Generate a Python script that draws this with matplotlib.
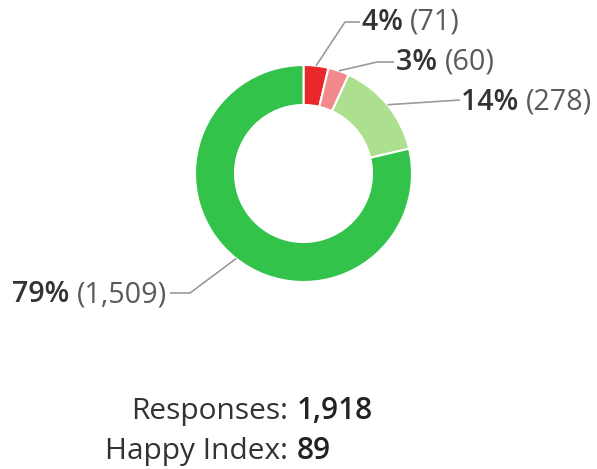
import numpy as np
import matplotlib
matplotlib.use("Agg")
import matplotlib.pyplot as plt

labels = ["Very unhappy", "Unhappy", "Happy", "Very happy"]
counts = [71, 60, 278, 1509]
percents = ["4%", "3%", "14%", "79%"]
count_labels = ["(71)", "(60)", "(278)", "(1,509)"]
colors = ["#e8282b", "#f2898d", "#acdf8e", "#33c24a"]
responses = "1,918"
happy_index = "89"

W, H = 597, 469
fig = plt.figure(figsize=(W / 100, H / 100), dpi=100)
ax = fig.add_axes([0, 0, 1, 1])
plt.rcParams["font.family"] = ["Open Sans", "DejaVu Sans"]

def Y(y):
    return H - y

cx, cy, R, width = 303.5, 173.5, 108.5, 40

wedges, _ = ax.pie(counts, colors=colors, startangle=90, counterclock=False,
                   center=(cx, Y(cy)), radius=R, frame=True,
                   wedgeprops=dict(width=width, edgecolor="white", linewidth=1.5))
ax.set_xlim(0, W)
ax.set_ylim(0, H)
ax.set_aspect("equal")
ax.axis("off")

bends = [[(345, 22), (360, 22)], [(377, 62), (394, 62)], [(460, 100), (460, 100)], [(190, 293), (170, 293)]]
text_pos = [(362, 22, "left"), (396, 62, "left"), (461, 102, "left"), (167, 295, "right")]
fs = 20.6
bw = 600
for w, b, tp, p, c in zip(wedges, bends, text_pos, percents, count_labels):
    ang = np.deg2rad((w.theta1 + w.theta2) / 2)
    ax_x = cx + R * np.cos(ang)
    ax_y = Y(cy) + R * np.sin(ang)
    xs = [ax_x] + [q[0] for q in b]
    ys = [ax_y] + [Y(q[1]) for q in b]
    ax.plot(xs, ys, color="#9a9a9a", lw=1.2, solid_capstyle="butt")
    tx, ty, ha = tp
    if ha == "left":
        t1 = ax.text(tx, Y(ty), p + " ", fontsize=fs, fontweight=bw, color="#333333",
                     ha="left", va="center")
        fig.canvas.draw()
        bb = t1.get_window_extent()
        x2 = bb.x1 * W / fig.bbox.width
        ax.text(x2, Y(ty), c, fontsize=fs, color="#5a5a5a", ha="left", va="center")
    else:
        t2 = ax.text(tx, Y(ty), c, fontsize=fs, color="#5a5a5a", ha="right", va="center")
        fig.canvas.draw()
        bb = t2.get_window_extent()
        x1 = bb.x0 * W / fig.bbox.width
        ax.text(x1, Y(ty), p + " ", fontsize=fs, fontweight=bw, color="#333333",
                ha="right", va="center")

fs2 = 21.5
ax.text(288, Y(411), "Responses:", fontsize=fs2, color="#333333", ha="right", va="center")
ax.text(297, Y(411), responses, fontsize=fs2, fontweight=bw, color="#222222", ha="left", va="center")
ax.text(288, Y(451), "Happy Index:", fontsize=fs2, color="#333333", ha="right", va="center")
ax.text(297, Y(451), happy_index, fontsize=fs2, fontweight=bw, color="#222222", ha="left", va="center")

fig.savefig("out.png", dpi=100)
